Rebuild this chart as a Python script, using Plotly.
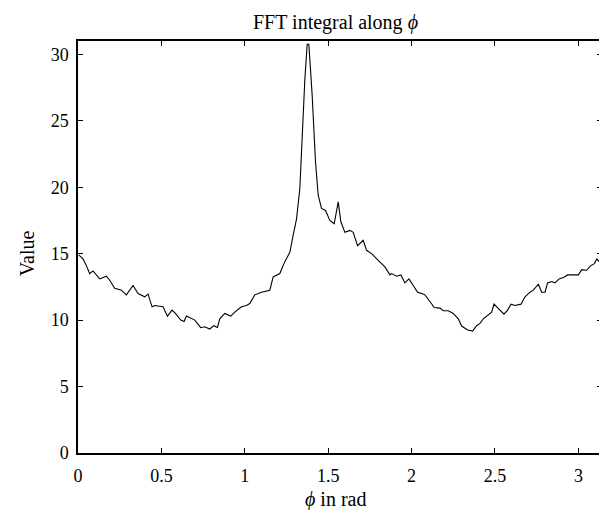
import plotly.graph_objects as go

phi = [0.004, 0.03, 0.05, 0.07, 0.09, 0.13, 0.17, 0.19, 0.22, 0.26, 0.29, 0.33, 0.36, 0.40, 0.42,
       0.444, 0.46, 0.51, 0.536, 0.564, 0.584, 0.616, 0.636, 0.65, 0.70, 0.736, 0.76, 0.79, 0.814,
       0.836, 0.85, 0.88, 0.916, 0.94, 0.98, 1.01, 1.03, 1.06, 1.10, 1.15, 1.17, 1.21, 1.24, 1.27,
       1.29, 1.31, 1.33, 1.346, 1.36, 1.374, 1.384, 1.404, 1.424, 1.44, 1.46, 1.484, 1.51, 1.536,
       1.56, 1.576, 1.60, 1.63, 1.65, 1.676, 1.71, 1.73, 1.76, 1.80, 1.84, 1.87, 1.88, 1.91, 1.936,
       1.96, 1.984, 2.01, 2.036, 2.06, 2.08, 2.11, 2.136, 2.17, 2.19, 2.22, 2.25, 2.28, 2.30, 2.336,
       2.366, 2.39, 2.41, 2.43, 2.46, 2.48, 2.494, 2.52, 2.554, 2.576, 2.596, 2.62, 2.656, 2.68,
       2.71, 2.73, 2.76, 2.78, 2.80, 2.815, 2.84, 2.86, 2.884, 2.91, 2.936, 2.97, 3.0, 3.02, 3.05,
       3.074, 3.096, 3.11, 3.136]
value = [14.9, 14.6, 14.1, 13.5, 13.7, 13.1, 13.3, 13.0, 12.4, 12.25, 11.9, 12.6, 12.0, 11.75, 11.95,
         11.0, 11.1, 11.0, 10.3, 10.75, 10.5, 10.0, 9.9, 10.3, 10.0, 9.43, 9.5, 9.33, 9.58,
         9.45, 10.1, 10.5, 10.3, 10.6, 11.0, 11.1, 11.25, 11.9, 12.1, 12.25, 13.25, 13.5, 14.4, 15.1,
         16.4, 17.6, 19.9, 24.4, 28.1, 30.75, 30.75, 26.9, 21.9, 19.4, 18.4, 18.25, 17.5, 17.25,
         18.9, 17.4, 16.6, 16.75, 16.6, 15.6, 16.0, 15.25, 15.0, 14.5, 14.0, 13.4, 13.5, 13.3, 13.4,
         12.8, 13.1, 12.6, 12.1, 12.0, 11.9, 11.4, 10.95, 10.9, 10.7, 10.7, 10.5, 10.1, 9.55, 9.25,
         9.17, 9.58, 9.75, 10.1, 10.4, 10.6, 11.2, 10.9, 10.45, 10.75, 11.2, 11.1, 11.2, 11.75,
         12.1, 12.25, 12.7, 12.1, 12.1, 12.8, 12.9, 12.8, 13.1, 13.2, 13.4, 13.4, 13.4, 13.8, 13.75,
         14.1, 14.25, 14.6, 14.25]

x_ticks = [0, 0.5, 1, 1.5, 2, 2.5, 3]
x_tick_labels = ["0", "0.5", "1", "1.5", "2", "2.5", "3"]
y_ticks = [0, 5, 10, 15, 20, 25, 30]
y_tick_labels = ["0", "5", "10", "15", "20", "25", "30"]

title_text = "FFT integral along <i>ϕ</i>"
x_title = "<i>ϕ</i> in rad"
y_title = "Value"

FONT = "Liberation Serif, Times New Roman, serif"

fig = go.Figure(go.Scatter(x=phi, y=value, mode="lines",
                           line=dict(color="black", width=1.1)))

axis_common = dict(showline=True, linecolor="black", linewidth=1.5, mirror="ticks",
                   ticks="inside", ticklen=5, tickwidth=1, tickcolor="black",
                   showgrid=False, zeroline=False,
                   tickfont=dict(family=FONT, size=18, color="black"))

fig.update_layout(
    width=607, height=510,
    margin=dict(l=70, r=13, t=33, b=65),
    paper_bgcolor="white", plot_bgcolor="white",
    showlegend=False,
    font=dict(family=FONT, size=18, color="black"),
    xaxis=dict(range=[0, 3.14159], tickvals=x_ticks, ticktext=x_tick_labels,
               ticklabelstandoff=6, **axis_common),
    yaxis=dict(range=[0, 31], tickvals=y_ticks, ticktext=y_tick_labels,
               ticklabelstandoff=4, **axis_common),
    annotations=[
        dict(text=title_text, xref="paper", yref="paper", x=0.4905, y=1.046,
             xanchor="center", yanchor="middle", showarrow=False,
             font=dict(family=FONT, size=20, color="black")),
        dict(text=x_title, xref="paper", yref="paper", x=0.4905, y=-0.114,
             xanchor="center", yanchor="middle", showarrow=False,
             font=dict(family=FONT, size=20, color="black")),
        dict(text=y_title, xref="paper", yref="paper", x=-0.0973, y=0.485,
             xanchor="center", yanchor="middle", textangle=-90, showarrow=False,
             font=dict(family=FONT, size=20, color="black")),
    ],
)

fig.write_html("out.html")
